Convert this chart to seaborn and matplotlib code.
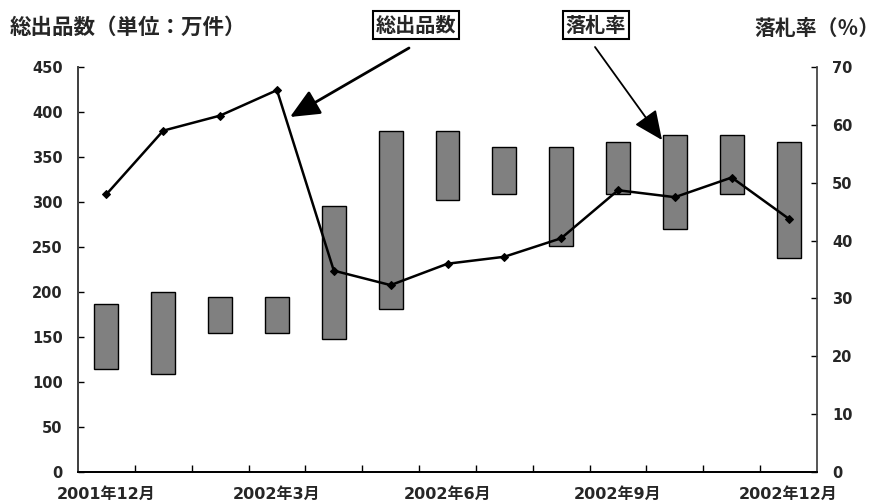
import numpy as np
import pandas as pd
import seaborn as sns
import matplotlib.pyplot as plt

# 月（カテゴリ）
months = ['2001年12月', '2002年1月', '2002年2月', '2002年3月', '2002年4月', '2002年5月',
          '2002年6月', '2002年7月', '2002年8月', '2002年9月', '2002年10月', '2002年11月',
          '2002年12月']
# 総出品数の幅（万件）：下端と上端
shuppin_low = [115, 109, 155, 155, 148, 181, 302, 309, 251, 309, 270, 309, 238]
shuppin_high = [187, 200, 194, 194, 296, 379, 379, 361, 361, 367, 374, 374, 367]
# 落札率（％）
rakusatsu = [48.0, 59.0, 61.6, 66.0, 34.8, 32.3, 36.0, 37.2, 40.4, 48.7, 47.5, 50.9, 43.8]
# 表示する目盛りラベル
shown_labels = ['2001年12月', '2002年3月', '2002年6月', '2002年9月', '2002年12月']

df = pd.DataFrame({'month': months, 'low': shuppin_low, 'high': shuppin_high,
                   'rate': rakusatsu})
df['pos'] = np.arange(len(df))

sns.set_theme(style='white')
plt.rcParams['font.family'] = ['Noto Sans CJK JP', 'DejaVu Sans']
plt.rcParams['font.weight'] = 'bold'
num_font = ['DejaVu Sans', 'Noto Sans CJK JP']

W, H = 883, 504
fig = plt.figure(figsize=(W / 100, H / 100), dpi=100)
ax = fig.add_axes([78 / W, 32 / H, (817 - 78) / W, 405 / H])

# 総出品数（浮いた棒）
ax.bar(df['pos'], df['high'] - df['low'], bottom=df['low'], width=0.42,
       color='#808080', edgecolor='black', linewidth=1.0, zorder=2)
ax.set_ylim(0, 450)
ax.set_yticks(range(0, 451, 50))
ax.set_xlim(-0.5, len(df) - 0.5)

# 落札率（折れ線）
ax2 = ax.twinx()
sns.lineplot(data=df, x='pos', y='rate', ax=ax2, color='black', linewidth=1.8,
             marker='D', markersize=4.5, markeredgecolor='black', zorder=3)
ax2.set_ylim(0, 70)
ax2.set_yticks(range(0, 71, 10))
ax2.set_xlim(-0.5, len(df) - 0.5)
ax2.set_ylabel('')
ax.set_xlabel('')
ax.set_ylabel('')

# x 軸：区切りの目盛りとラベル
label_pos = [months.index(m) for m in shown_labels]
ax.set_xticks(label_pos)
ax.set_xticklabels(shown_labels, fontsize=11.5, fontweight='bold', family=num_font)
ax.set_xticks(np.arange(0.5, len(df) - 1, 1.0), minor=True)
ax.tick_params(axis='x', which='major', length=0, pad=10.5)
ax.tick_params(axis='x', which='minor', bottom=True, direction='in', length=5,
               width=1, color='black')

ax.tick_params(axis='y', left=True, direction='in', length=4, width=1,
               color='black', labelsize=10.5, pad=11)
ax2.tick_params(axis='y', right=True, direction='in', length=4, width=1,
                color='black', labelsize=10.5, pad=11)
for lab in ax.get_yticklabels() + ax2.get_yticklabels():
    lab.set_fontweight('bold')
    lab.set_family(num_font)

for a in (ax, ax2):
    a.spines['top'].set_visible(False)
    a.spines['left'].set_color('#404040')
    a.spines['right'].set_color('#404040')
    a.spines['bottom'].set_color('black')
    a.spines['bottom'].set_linewidth(1.3)
    a.grid(False)
ax.spines['right'].set_visible(False)

# タイトル
fig.text(10 / W, 1 - 27 / H, '総出品数（単位：万件）', fontsize=15.5,
         fontweight='bold', ha='left', va='center')
fig.text(880 / W, 1 - 28 / H, '落札率（％）', fontsize=15,
         fontweight='bold', ha='right', va='center')

# 注記（矢印つき）
box = dict(boxstyle='square,pad=0.15', fc='white', ec='black', lw=1.5)
fig.text(416 / W, 1 - 25 / H, '総出品数', fontsize=14.5, fontweight='bold',
         ha='center', va='center', bbox=box)
fig.text(596 / W, 1 - 25 / H, '落札率', fontsize=14.5, fontweight='bold',
         ha='center', va='center', bbox=box)
ax.annotate('', xy=(290, H - 117), xycoords='figure pixels',
            xytext=(409, H - 48), textcoords='figure pixels',
            arrowprops=dict(arrowstyle='-|>,head_length=1.0,head_width=0.45',
                            mutation_scale=18, lw=2, color='black',
                            shrinkA=0, shrinkB=0))
ax.annotate('', xy=(662, H - 140), xycoords='figure pixels',
            xytext=(595, H - 47), textcoords='figure pixels',
            arrowprops=dict(arrowstyle='-|>,head_length=1.0,head_width=0.45',
                            mutation_scale=18, lw=1.3, color='black',
                            shrinkA=0, shrinkB=0))

fig.savefig('out.png', dpi=100)
plt.close(fig)
